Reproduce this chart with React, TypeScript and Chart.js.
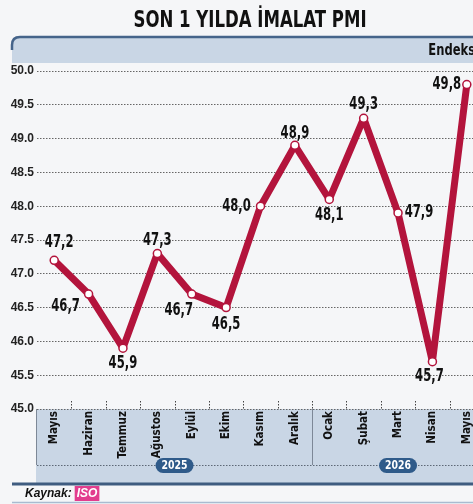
import React, { useEffect, useRef } from "react";
import { Chart, registerables } from "chart.js";

Chart.register(...registerables);

// ---- data ----
const titleText = "SON 1 YILDA İMALAT PMI";
const unitText = "Endeks";
const sourceLabel = "Kaynak:";
const sourceName = "ISO";
const months = ["Mayıs", "Haziran", "Temmuz", "Ağustos", "Eylül", "Ekim", "Kasım", "Aralık", "Ocak", "Şubat", "Mart", "Nisan", "Mayıs"];
const pmi = [47.2, 46.7, 45.9, 47.3, 46.7, 46.5, 48.0, 48.9, 48.1, 49.3, 47.9, 45.7, 49.8];
const years = ["2025", "2026"];
const yearStartIndex = [0, 8];
const yMin = 45;
const yMax = 50;
const yStep = 0.5;

// label placement (style), dx/dy from point
const labelOffsets: [number, number][] = [
  [5, -18], [-23, 12], [0, 15], [0, -13], [-13, 16], [0, 17], [-24, 0],
  [0, -12], [0, 16], [0, -14], [21, 0], [-3, 15], [-20, 0],
];

const FN = '"Liberation Sans Narrow","DejaVu Sans Condensed","Arial Narrow",sans-serif';
const FS = '"Liberation Sans",Arial,sans-serif';
const LINE = "#b3143c";
const BAND = "#c9d6e5";
const DARK = "#2f5b8a";

function scaledText(ctx: any, text: string, x: number, y: number, sx: number) {
  ctx.save();
  ctx.translate(x, y);
  ctx.scale(sx, 1);
  ctx.fillText(text, 0, 0);
  ctx.restore();
}

const decor = {
  id: "decor",
  beforeDraw(chart: any) {
    const { ctx, chartArea: ca, scales } = chart;
    const x = scales.x;
    const W = chart.width;
    ctx.save();
    ctx.fillStyle = "#f5f6f8";
    ctx.fillRect(0, 0, W, chart.height);

    // title
    ctx.fillStyle = "#111";
    ctx.font = `bold 23px ${FN}`;
    ctx.textAlign = "center";
    ctx.textBaseline = "middle";
    scaledText(ctx, titleText, 250, 21, 0.8);

    // header band
    ctx.fillStyle = BAND;
    ctx.beginPath();
    ctx.moveTo(12, 63);
    ctx.lineTo(12, 45);
    ctx.quadraticCurveTo(12, 37, 20, 37);
    ctx.lineTo(W, 37);
    ctx.lineTo(W, 63);
    ctx.closePath();
    ctx.fill();
    ctx.strokeStyle = "#45648a";
    ctx.lineWidth = 2.5;
    ctx.beginPath();
    ctx.moveTo(12, 50);
    ctx.lineTo(12, 45);
    ctx.quadraticCurveTo(12, 37, 20, 37);
    ctx.lineTo(W, 37);
    ctx.stroke();
    ctx.fillStyle = "#111";
    ctx.font = `bold 16px ${FN}`;
    ctx.textAlign = "right";
    scaledText(ctx, unitText, 475, 51, 0.8);

    // band under axis
    const half = (x.getPixelForValue(1) - x.getPixelForValue(0)) / 2;
    ctx.fillStyle = BAND;
    ctx.fillRect(ca.left - 1, ca.bottom, W, 483 - ca.bottom);
    ctx.strokeStyle = "#7d8897";
    ctx.lineWidth = 1;
    ctx.beginPath();
    ctx.moveTo(ca.left - 0.5, ca.bottom);
    ctx.lineTo(ca.left - 0.5, 465);
    const sepX = Math.round(x.getPixelForValue(yearStartIndex[1]) - half) + 0.5;
    ctx.moveTo(sepX, ca.bottom);
    ctx.lineTo(sepX, 465);
    ctx.stroke();
    ctx.setLineDash([1.5, 1.5]);
    ctx.strokeStyle = "#5d6876";
    ctx.beginPath();
    ctx.moveTo(ca.left, 465.5);
    ctx.lineTo(W, 465.5);
    ctx.stroke();
    // small ticks above axis
    ctx.strokeStyle = "#444";
    ctx.beginPath();
    for (let i = 1; i < months.length; i++) {
      const bx = Math.round(x.getPixelForValue(i) - half) + 0.5;
      ctx.moveTo(bx, ca.bottom - 8);
      ctx.lineTo(bx, ca.bottom);
    }
    ctx.stroke();
    ctx.setLineDash([]);

    // footer
    ctx.strokeStyle = "#3f5c80";
    ctx.lineWidth = 3;
    ctx.beginPath();
    ctx.moveTo(12, 484);
    ctx.lineTo(W, 484);
    ctx.stroke();
    ctx.strokeStyle = "#a9bbd0";
    ctx.lineWidth = 1.5;
    ctx.beginPath();
    ctx.moveTo(12, 502.5);
    ctx.lineTo(W, 502.5);
    ctx.stroke();
    ctx.font = `italic bold 12px ${FS}`;
    ctx.textAlign = "left";
    ctx.fillStyle = "#111";
    ctx.fillText(sourceLabel, 25, 494);
    const sw = ctx.measureText(sourceLabel).width;
    const isoW = ctx.measureText(sourceName).width;
    ctx.fillStyle = "#e23d8e";
    ctx.fillRect(25 + sw + 3, 486, isoW + 4, 15);
    ctx.fillStyle = "#fff";
    ctx.fillText(sourceName, 25 + sw + 5, 494);
    ctx.restore();
  },
  afterDatasetsDraw(chart: any) {
    const { ctx } = chart;
    const meta = chart.getDatasetMeta(0);
    ctx.save();
    ctx.font = `bold 17px ${FN}`;
    ctx.fillStyle = "#111";
    ctx.textAlign = "center";
    ctx.textBaseline = "middle";
    meta.data.forEach((pt: any, i: number) => {
      const [dx, dy] = labelOffsets[i];
      scaledText(ctx, pmi[i].toFixed(1).replace(".", ","), pt.x + dx, pt.y + dy, 0.76);
    });
    ctx.restore();
  },
  afterDraw(chart: any) {
    const { ctx, scales } = chart;
    const x = scales.x;
    const half = (x.getPixelForValue(1) - x.getPixelForValue(0)) / 2;
    ctx.save();
    years.forEach((yr, k) => {
      const s = yearStartIndex[k];
      const e = k + 1 < yearStartIndex.length ? yearStartIndex[k + 1] - 1 : months.length - 1;
      const cx = (x.getPixelForValue(s) - half + x.getPixelForValue(e) + half) / 2;
      const w = 38, h = 15, cy = 465.5;
      ctx.fillStyle = DARK;
      ctx.beginPath();
      ctx.moveTo(cx - w / 2 + h / 2, cy - h / 2);
      ctx.lineTo(cx + w / 2 - h / 2, cy - h / 2);
      ctx.arc(cx + w / 2 - h / 2, cy, h / 2, -Math.PI / 2, Math.PI / 2);
      ctx.lineTo(cx - w / 2 + h / 2, cy + h / 2);
      ctx.arc(cx - w / 2 + h / 2, cy, h / 2, Math.PI / 2, Math.PI * 1.5);
      ctx.closePath();
      ctx.fill();
      ctx.fillStyle = "#fff";
      ctx.font = `bold 13px ${FN}`;
      ctx.textAlign = "center";
      ctx.textBaseline = "middle";
      scaledText(ctx, yr, cx, cy + 0.5, 0.8);
    });
    ctx.restore();
  },
};

export default function App() {
  const ref = useRef<HTMLCanvasElement | null>(null);
  useEffect(() => {
    if (!ref.current) return;
    const chart = new Chart(ref.current, {
      type: "line",
      data: {
        labels: months,
        datasets: [
          {
            data: pmi,
            borderColor: LINE,
            borderWidth: 7,
            borderJoinStyle: "round",
            borderCapStyle: "round",
            tension: 0,
            pointRadius: 4,
            pointBorderWidth: 1.5,
            pointBackgroundColor: "#fff",
            pointBorderColor: LINE,
            clip: false,
          } as any,
        ],
      },
      options: {
        animation: false,
        responsive: false,
        devicePixelRatio: 1,
        layout: { padding: { top: 71, left: 0, right: 16, bottom: 0 } },
        plugins: { legend: { display: false }, tooltip: { enabled: false }, title: { display: false } },
        scales: {
          x: {
            type: "category",
            offset: true,
            grid: { display: false, drawTicks: false },
            border: { display: false },
            ticks: {
              autoSkip: false,
              maxRotation: 90,
              minRotation: 90,
              padding: 2,
              color: "#111",
              font: { family: FN, weight: "bold", size: 11.5 },
            },
            afterFit: (s: any) => {
              s.height = 95;
            },
          },
          y: {
            min: yMin,
            max: yMax,
            grid: { color: "#666", lineWidth: 1, drawTicks: false, borderDash: [1.5, 1.5] } as any,
            border: { display: false, dash: [1.5, 1.5] },
            ticks: {
              stepSize: yStep,
              padding: 3,
              color: "#222",
              font: { family: FS, weight: "bold", size: 12 },
              callback: (v: any) => Number(v).toFixed(1),
            },
            afterFit: (s: any) => {
              s.width = 37;
            },
          },
        },
      },
      plugins: [decor],
    });
    return () => chart.destroy();
  }, []);
  return (
    <div style={{ position: "fixed", left: 0, top: 0, width: 473, height: 504, overflow: "hidden", background: "#f5f6f8" }}>
      <canvas ref={ref} width={500} height={504} style={{ display: "block", width: 500, height: 504 }} />
    </div>
  );
}
